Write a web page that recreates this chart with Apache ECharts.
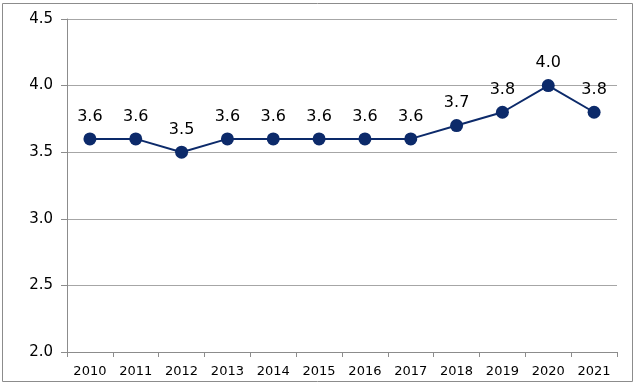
<!DOCTYPE html>
<html><head><meta charset="utf-8">
<script src="https://cdn.jsdelivr.net/npm/echarts@6/dist/echarts.min.js"></script>
<style>html,body{margin:0;padding:0;background:#fff}#c{width:636px;height:386px}</style>
</head><body><div id="c"></div>
<script>
const categories = ['2010','2011','2012','2013','2014','2015','2016','2017','2018','2019','2020','2021'];
const values = [3.6,3.6,3.5,3.6,3.6,3.6,3.6,3.6,3.7,3.8,4.0,3.8];
const yMin = 2.0, yMax = 4.5, yStep = 0.5;

const chart = echarts.init(document.getElementById('c'), null, {renderer:'canvas'});
const font = 'Verdana, "DejaVu Sans", sans-serif';
chart.setOption({
  animation: false,
  graphic: [{type:'rect', shape:{x:2.5,y:3.5,width:630,height:378}, style:{fill:'none', stroke:'#8c8c8c', lineWidth:1}, silent:true}],
  grid: {left:67, right:19, top:19, bottom:34, containLabel:false},
  xAxis: {
    type:'category', data: categories, boundaryGap:true,
    axisLine:{lineStyle:{color:'#8c8c8c', width:1}},
    axisTick:{show:true, length:5, lineStyle:{color:'#8c8c8c'}},
    axisLabel:{color:'#000', fontFamily:font, fontSize:13, margin:13}
  },
  yAxis: {
    type:'value', min:yMin, max:yMax, interval:yStep,
    axisLine:{show:true, lineStyle:{color:'#8c8c8c', width:1}},
    axisTick:{show:true, length:6, lineStyle:{color:'#8c8c8c'}},
    axisLabel:{color:'#000', fontFamily:font, fontSize:15, margin:14, formatter:v=>v.toFixed(1)},
    splitLine:{show:true, lineStyle:{color:'#a6a6a6', width:1}}
  },
  series: [{
    type:'line', data: values, symbol:'circle', symbolSize:13,
    lineStyle:{color:'#0c2a6a', width:2},
    itemStyle:{color:'#0c2a6a'},
    label:{show:true, position:'top', distance:8, color:'#000', fontFamily:font, fontSize:16, formatter:p=>p.value.toFixed(1)}
  }]
});
</script></body></html>
